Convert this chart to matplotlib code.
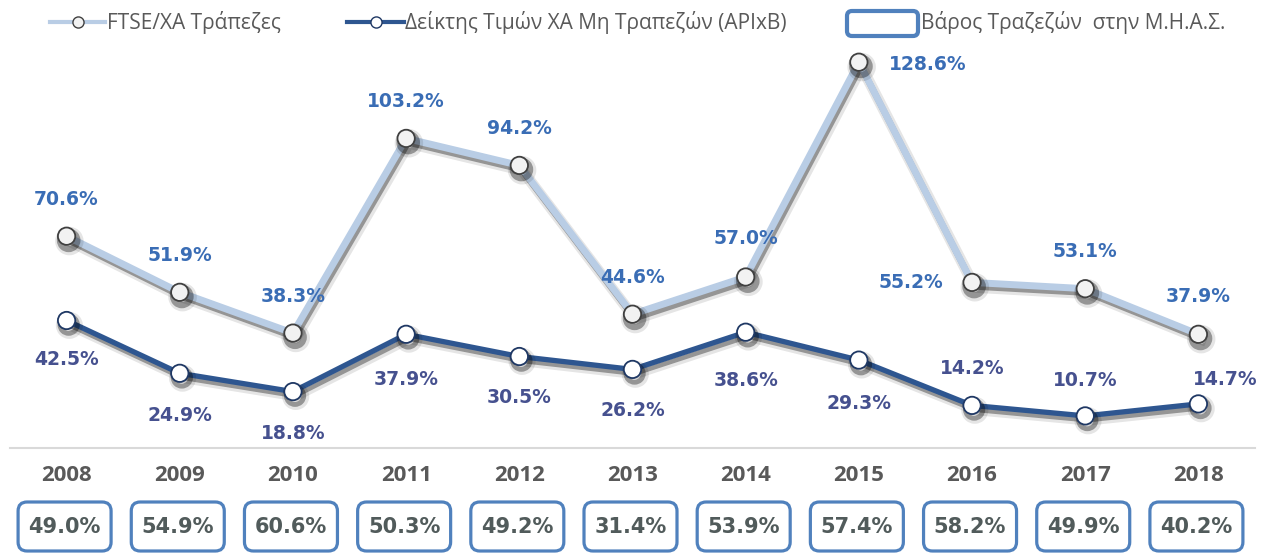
import matplotlib
matplotlib.use("Agg")
import matplotlib.pyplot as plt
import matplotlib.patheffects as pe
from matplotlib.patches import FancyBboxPatch
from matplotlib.lines import Line2D

# ---------------- data ----------------
years = ["2008", "2009", "2010", "2011", "2012", "2013", "2014", "2015", "2016", "2017", "2018"]
ftse_banks = [70.6, 51.9, 38.3, 103.2, 94.2, 44.6, 57.0, 128.6, 55.2, 53.1, 37.9]
non_banks = [42.5, 24.9, 18.8, 37.9, 30.5, 26.2, 38.6, 29.3, 14.2, 10.7, 14.7]
bank_weight = [49.0, 54.9, 60.6, 50.3, 49.2, 31.4, 53.9, 57.4, 58.2, 49.9, 40.2]
legend_labels = ["FTSE/XA Τράπεζες", "Δείκτης Τιμών ΧΑ Μη Τραπεζών (APIxB)", "Βάρος Τραζεζών  στην Μ.Η.Α.Σ."]

# ---------------- style ----------------
W, H = 1276, 554
PX = 0.72  # points per pixel at dpi 100
c_ftse = "#B9CDE5"
c_non = "#2E5690"
c_lab_ftse = "#3A6DB5"
c_lab_non = "#46518F"
c_box = "#5081BD"
c_gray = "#595959"

# label offsets in pixels (dx, dy up positive)
off_ftse = [(0, 37), (0, 37), (0, 37), (0, 37), (0, 37), (0, 37), (0, 38), (69, -2), (-61, 0), (0, 37), (0, 38)]
off_non = [(0, -39), (0, -42), (0, -42), (0, -45), (0, -41), (0, -41), (0, -48), (0, -43), (0, 37), (0, 35), (27, 24)]

fig = plt.figure(figsize=(W / 100, H / 100), dpi=100)
fig.patch.set_facecolor("white")

ax = fig.add_axes([10 / W, (H - 448) / H, 1245 / W, 408 / H])
x = list(range(len(years)))
ax.set_xlim(-0.5, len(years) - 0.5)
ax.set_ylim(0, 136)

shadow_ftse = [pe.SimpleLineShadow(offset=(2, -3.5), shadow_color="black", alpha=0.10, linewidth=8),
               pe.SimpleLineShadow(offset=(1.5, -3), shadow_color="black", alpha=0.35, linewidth=4.5),
               pe.Normal()]
shadow_non = [pe.SimpleLineShadow(offset=(2, -3.5), shadow_color="black", alpha=0.10, linewidth=7),
              pe.SimpleLineShadow(offset=(1.5, -3), shadow_color="black", alpha=0.35, linewidth=3.5),
              pe.Normal()]

ax.plot(x, ftse_banks, color=c_ftse, lw=5, marker="o", ms=12.5, mfc="#F2F2F2",
        mec="#404040", mew=1.3, solid_joinstyle="round", path_effects=shadow_ftse, zorder=3)
ax.plot(x, non_banks, color=c_non, lw=3.8, marker="o", ms=12.5, mfc="white",
        mec="#1F3864", mew=1.3, solid_joinstyle="round", path_effects=shadow_non, zorder=3)

for xi, v, (dx, dy) in zip(x, ftse_banks, off_ftse):
    ax.annotate(f"{v:.1f}%", (xi, v), xytext=(dx * PX, dy * PX), textcoords="offset points",
                ha="center", va="center", fontsize=13.5, fontweight="bold",
                color=c_lab_ftse, family="DejaVu Sans", zorder=5)
for xi, v, (dx, dy) in zip(x, non_banks, off_non):
    ax.annotate(f"{v:.1f}%", (xi, v), xytext=(dx * PX, dy * PX), textcoords="offset points",
                ha="center", va="center", fontsize=13.5, fontweight="bold",
                color=c_lab_non, family="DejaVu Sans", zorder=5)

for s in ["top", "right", "left"]:
    ax.spines[s].set_visible(False)
ax.spines["bottom"].set_color("#D9D9D9")
ax.spines["bottom"].set_linewidth(1.5)
ax.set_yticks([])
ax.set_xticks(x)
ax.set_xticklabels(years, fontsize=16, fontweight="bold", color=c_gray, family="Open Sans")
ax.tick_params(axis="x", length=0, pad=12)

# overlay in pixel coordinates (y from top)
ov = fig.add_axes([0, 0, 1, 1], zorder=-1)
ov.set_xlim(0, W)
ov.set_ylim(H, 0)
ov.axis("off")

# boxes with bank weight below the years
for xi, v in zip(x, bank_weight):
    cx = ax.transData.transform((xi, 0))[0] - 2
    box = FancyBboxPatch((cx - 46.5, 502), 93, 49, boxstyle="round,pad=0,rounding_size=9",
                         lw=2.3, ec=c_box, fc="white")
    ov.add_patch(box)
    ov.text(cx, 527, f"{v:.1f}%", ha="center", va="center", fontsize=15, fontweight="bold",
            color="#515B5B", family="DejaVu Sans")

# legend (manual)
ly = 22
ov.add_line(Line2D([50, 105], [ly, ly], color=c_ftse, lw=3))
ov.plot([77.5], [ly], marker="o", ms=8, mfc="#F2F2F2", mec="#404040", mew=1)
ov.text(107, ly, legend_labels[0], ha="left", va="center", fontsize=15, color=c_gray, family="Open Sans")
ov.add_line(Line2D([347, 404], [ly, ly], color=c_non, lw=3))
ov.plot([375.5], [ly], marker="o", ms=8, mfc="white", mec="#1F3864", mew=1)
ov.text(405, ly, legend_labels[1], ha="left", va="center", fontsize=15, color=c_gray, family="Open Sans")
ov.add_patch(FancyBboxPatch((847, 11), 71, 25, boxstyle="round,pad=0,rounding_size=5",
                            lw=3, ec=c_box, fc="white"))
ov.text(921, ly, legend_labels[2], ha="left", va="center", fontsize=15, color=c_gray, family="Open Sans")

fig.savefig("out.png", dpi=100, facecolor="white")
